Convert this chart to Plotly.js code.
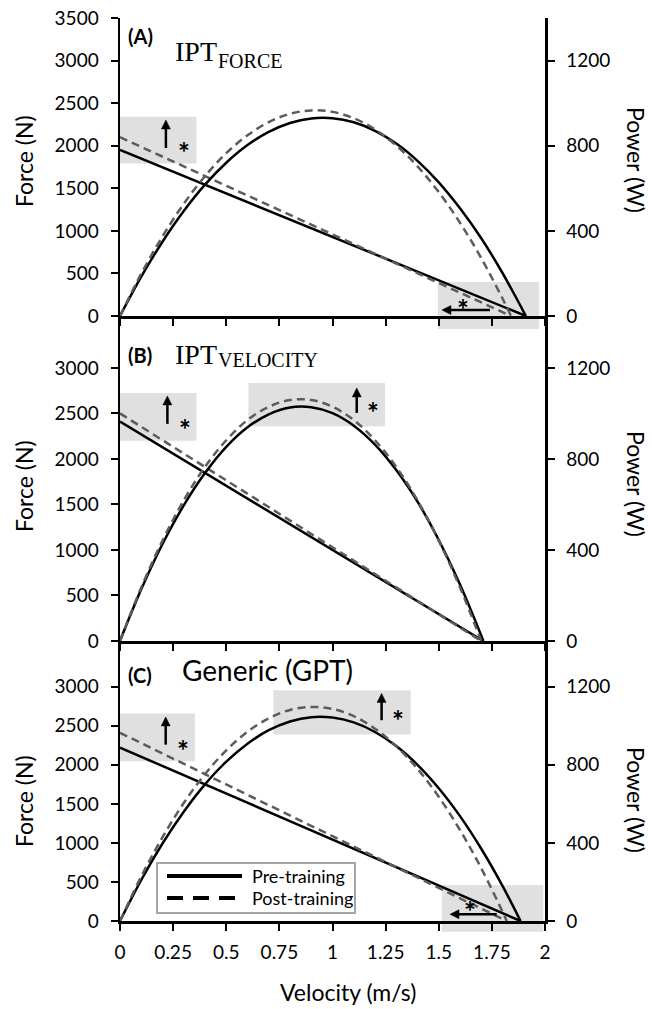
<!DOCTYPE html>
<html><head><meta charset="utf-8">
<script src="https://cdn.plot.ly/plotly-3.0.1.min.js"></script>
<style>html,body{margin:0;padding:0;background:#fff}#chart{width:652px;height:1009px}</style>
</head><body><div id="chart"></div>
<script>
// ---------- tick labels ----------
const xTickVals = [0, 0.25, 0.5, 0.75, 1, 1.25, 1.5, 1.75, 2];
const xTickText = ['0', '0.25', '0.5', '0.75', '1', '1.25', '1.5', '1.75', '2'];
const forceTicksA = [0, 500, 1000, 1500, 2000, 2500, 3000, 3500];
const forceTicksBC = [0, 500, 1000, 1500, 2000, 2500, 3000];
const powerTicks = [0, 400, 800, 1200];

// ---------- Panel A: IPT FORCE ----------
const vA_preF = [0, 1.91],  fA_pre = [1950, 0];
const vA_postF = [0, 1.84], fA_post = [2100, 0];
const vA_preP = [0,0.1,0.2,0.3,0.4,0.5,0.6,0.7,0.8,0.9,1.0,1.1,1.2,1.3,1.4,1.5,1.6,1.7,1.8,1.91];
const pA_pre  = [0,185,349,493,617,720,803,865,907,928,929,910,870,810,729,628,506,365,202,0];
const vA_postP = [0,0.1,0.2,0.3,0.4,0.5,0.6,0.7,0.8,0.9,1.0,1.1,1.2,1.3,1.4,1.5,1.6,1.7,1.8,1.84];
const pA_post  = [0,199,374,527,657,765,849,911,950,966,959,929,877,801,703,582,438,272,82,0];

// ---------- Panel B: IPT VELOCITY ----------
const vB_preF = [0, 1.71],  fB_pre = [2410, 0];
const vB_postF = [0, 1.70], fB_post = [2500, 0];
const vB_preP = [0,0.1,0.2,0.3,0.4,0.5,0.6,0.7,0.8,0.9,1.0,1.1,1.2,1.3,1.4,1.5,1.6,1.71];
const pB_pre  = [0,227,426,596,738,853,939,996,1026,1027,1001,946,863,751,612,444,248,0];
const vB_postP = [0,0.1,0.2,0.3,0.4,0.5,0.6,0.7,0.8,0.9,1.0,1.1,1.2,1.3,1.4,1.5,1.6,1.70];
const pB_post  = [0,235,441,618,765,882,971,1029,1059,1059,1029,971,882,765,618,441,235,0];

// ---------- Panel C: Generic (GPT) ----------
const vC_preF = [0, 1.885], fC_pre = [2220, 0];
const vC_postF = [0, 1.82], fC_post = [2410, 0];
const vC_preP = [0,0.1,0.2,0.3,0.4,0.5,0.6,0.7,0.8,0.9,1.0,1.1,1.2,1.3,1.4,1.5,1.6,1.7,1.8,1.885];
const pC_pre  = [0,210,397,560,700,816,908,977,1022,1044,1042,1017,968,896,800,680,537,370,180,0];
const vC_postP = [0,0.1,0.2,0.3,0.4,0.5,0.6,0.7,0.8,0.9,1.0,1.1,1.2,1.3,1.4,1.5,1.6,1.7,1.8,1.82];
const pC_post  = [0,228,429,604,752,874,969,1038,1081,1096,1086,1049,985,895,779,636,466,270,48,0];

// ---------- highlight boxes [v0, v1, F0, F1] ----------
const boxesA = [[0, 0.36, 1790, 2340], [1.496, 1.972, -153, 399]];
const boxesB = [[0, 0.36, 2201, 2725], [0.604, 1.247, 2359, 2835]];
const boxesC = [[0, 0.353, 2044, 2657], [0.722, 1.368, 2387, 2956], [1.514, 1.992, -137, 461]];
// arrows [vTail, FTail, vHead, FHead]
const arrowsA = [[0.216, 1973, 0.216, 2302], [1.741, 70, 1.515, 70]];
const arrowsB = [[0.223, 2385, 0.223, 2692], [1.114, 2505, 1.114, 2780]];
const arrowsC = [[0.215, 2258, 0.215, 2613], [1.231, 2571, 1.231, 2914], [1.773, 86, 1.553, 86]];
// asterisks [v, F]
const starsA = [[0.30, 2008], [1.614, 164]];
const starsB = [[0.306, 2407], [1.19, 2593]];
const starsC = [[0.298, 2284], [1.31, 2657], [1.647, 214]];

// ---------- geometry ----------
const M = {l: 120, r: 107, t: 18, b: 88};
const W = 652, H = 1009;
const PW = W - M.l - M.r, PH = H - M.t - M.b;
const X = px => (px - M.l) / PW;
const Y = py => (H - M.b - py) / PH;
const FONT = 'Lato, "Open Sans", sans-serif';
const SERIF = '"Liberation Serif", serif';
const SOLID = '#000000', DASHC = '#5c5c5c', BOXC = '#e0e0e0';
const HEAD = 9, HALF = 4.5;

const panels = [
  {xa: 'x',  yF: 'y',  yP: 'y2', fR: 3500, pR: 1400, dom: [Y(316), Y(18)], fTicks: forceTicksA,
   d: [vA_preF, fA_pre, vA_postF, fA_post, vA_preP, pA_pre, vA_postP, pA_post], boxes: boxesA, arrows: arrowsA, stars: starsA},
  {xa: 'x2', yF: 'y3', yP: 'y4', fR: 3570, pR: 1428, dom: [Y(641), Y(316)], fTicks: forceTicksBC,
   d: [vB_preF, fB_pre, vB_postF, fB_post, vB_preP, pB_pre, vB_postP, pB_post], boxes: boxesB, arrows: arrowsB, stars: starsB},
  {xa: 'x3', yF: 'y5', yP: 'y6', fR: 3585, pR: 1434, dom: [Y(921), Y(641)], fTicks: forceTicksBC,
   d: [vC_preF, fC_pre, vC_postF, fC_post, vC_preP, pC_pre, vC_postP, pC_post], boxes: boxesC, arrows: arrowsC, stars: starsC}
];

const traces = [];
const shapes = [];
const annotations = [];
const layout = {
  width: W, height: H, margin: M, showlegend: false,
  paper_bgcolor: '#fff', plot_bgcolor: 'rgba(0,0,0,0)',
  font: {family: FONT, color: '#000', size: 19}
};

const axName = id => id.replace('x', 'xaxis').replace('y', 'yaxis');
const baseAxis = {showline: true, linecolor: '#000', linewidth: 2.5, ticks: 'outside', ticklen: 7, tickwidth: 2,
  tickcolor: '#000', zeroline: false, showgrid: false, fixedrange: true, tickfont: {family: FONT, size: 19, color: '#000'}};

panels.forEach((p, i) => {
  const line = (x, y, ya, post, name) => ({
    type: 'scatter', mode: 'lines', x: x, y: y, xaxis: p.xa, yaxis: ya, name: name, hoverinfo: 'skip',
    line: {color: post ? DASHC : SOLID, width: 2.5, dash: post ? '8px,5px' : 'solid', shape: 'spline', smoothing: 1}
  });
  traces.push(line(p.d[0], p.d[1], p.yF, false, 'Pre-training'));
  traces.push(line(p.d[2], p.d[3], p.yF, true, 'Post-training'));
  traces.push(line(p.d[4], p.d[5], p.yP, false, 'Pre-training'));
  traces.push(line(p.d[6], p.d[7], p.yP, true, 'Post-training'));

  layout[axName(p.xa)] = Object.assign({}, baseAxis, {
    domain: [0, 1], range: [0, 2], anchor: p.yF, tickvals: xTickVals, ticktext: xTickText,
    showticklabels: i === 2, ticklabelstandoff: 6
  });
  layout[axName(p.yF)] = Object.assign({}, baseAxis, {
    domain: p.dom, range: [0, p.fR], anchor: p.xa, tickvals: p.fTicks, ticklabelstandoff: 8
  });
  layout[axName(p.yP)] = Object.assign({}, baseAxis, {
    range: [0, p.pR], anchor: p.xa, overlaying: p.yF, side: 'right', tickvals: powerTicks, ticklabelstandoff: 8
  });

  const xd = p.xa + ' domain', yd = p.yF + ' domain';
  p.boxes.forEach(b => shapes.push({type: 'rect', xref: xd, yref: yd, x0: b[0] / 2, x1: b[1] / 2,
    y0: b[2] / p.fR, y1: b[3] / p.fR, fillcolor: BOXC, line: {width: 0}, layer: 'below'}));

  // arrows: shaft (data coords, stopped short of head) + triangular head in pixel units
  const panelPx = (p.dom[1] - p.dom[0]) * PH;
  const fPerPx = p.fR / panelPx, vPerPx = 2 / PW;
  p.arrows.forEach(a => {
    const up = a[0] === a[2];
    let x1 = a[2], y1 = a[3], path;
    if (up) { y1 = a[3] - (HEAD - 1) * fPerPx; path = `M ${-HALF},${-HEAD} L ${HALF},${-HEAD} L 0,0 Z`; }
    else { x1 = a[2] + (HEAD - 1) * vPerPx; path = `M ${HEAD},${-HALF} L ${HEAD},${HALF} L 0,0 Z`; }
    shapes.push({type: 'line', xref: p.xa, yref: p.yF, x0: a[0], y0: a[1], x1: x1, y1: y1,
      line: {color: '#000', width: 2.5}, layer: 'above'});
    shapes.push({type: 'path', xref: p.xa, yref: p.yF, xsizemode: 'pixel', ysizemode: 'pixel',
      xanchor: a[2], yanchor: a[3], path: path, fillcolor: '#000', line: {color: '#000', width: 0.5}, layer: 'above'});
  });
  p.stars.forEach(s => annotations.push({xref: p.xa, yref: p.yF, x: s[0], y: s[1], text: '<b>*</b>',
    showarrow: false, font: {family: FONT, size: 28, color: '#000'}, xanchor: 'center', yanchor: 'middle', yshift: -7}));
});

// axis titles
[161, 486, 801].forEach(py => annotations.push({xref: 'paper', yref: 'paper', x: X(24), y: Y(py), text: 'Force (N)',
  textangle: -90, showarrow: false, font: {family: FONT, size: 23}, xanchor: 'center', yanchor: 'middle'}));
[160, 484, 800].forEach(py => annotations.push({xref: 'paper', yref: 'paper', x: X(636), y: Y(py), text: 'Power (W)',
  textangle: 90, showarrow: false, font: {family: FONT, size: 23}, xanchor: 'center', yanchor: 'middle'}));
annotations.push({xref: 'paper', yref: 'paper', x: X(348), y: Y(992), text: 'Velocity (m/s)', showarrow: false,
  font: {family: FONT, size: 23}, xanchor: 'center', yanchor: 'middle'});

// panel labels
[['(A)', 36], ['(B)', 355], ['(C)', 675]].forEach(l => annotations.push({xref: 'paper', yref: 'paper', x: X(140), y: Y(l[1]),
  text: '<b>' + l[0] + '</b>', showarrow: false, font: {family: FONT, size: 20}, xanchor: 'center', yanchor: 'middle'}));
// panel titles: main text + smaller, lowered subscript text
const ann = (text, px, py, family, size) => annotations.push({xref: 'paper', yref: 'paper', x: X(px), y: Y(py),
  text: text, showarrow: false, font: {family: family, size: size}, xanchor: 'left', yanchor: 'middle', borderpad: 0});
ann('IPT', 174, 52, SERIF, 28);
ann('FORCE', 217, 61, SERIF, 20);
ann('IPT', 174, 354, SERIF, 28);
ann('VELOCITY', 217, 360, SERIF, 20);
ann('Generic (GPT)', 181, 670, FONT, 28);

// legend (drawn in panel C)
shapes.push({type: 'rect', xref: 'paper', yref: 'paper', x0: X(157), x1: X(355), y0: Y(913), y1: Y(863),
  fillcolor: '#fff', line: {color: '#a6a6a6', width: 2}, layer: 'above'});
shapes.push({type: 'line', xref: 'paper', yref: 'paper', x0: X(167), x1: X(242), y0: Y(876), y1: Y(876),
  line: {color: '#000', width: 4}, layer: 'above'});
shapes.push({type: 'line', xref: 'paper', yref: 'paper', x0: X(167), x1: X(242), y0: Y(898), y1: Y(898),
  line: {color: '#000', width: 4, dash: '16px,10px'}, layer: 'above'});
ann('Pre-training', 251, 876, FONT, 18);
ann('Post-training', 251, 898, FONT, 18);

layout.shapes = shapes;
layout.annotations = annotations;
Plotly.newPlot('chart', traces, layout, {staticPlot: true, displayModeBar: false});
</script></body></html>
